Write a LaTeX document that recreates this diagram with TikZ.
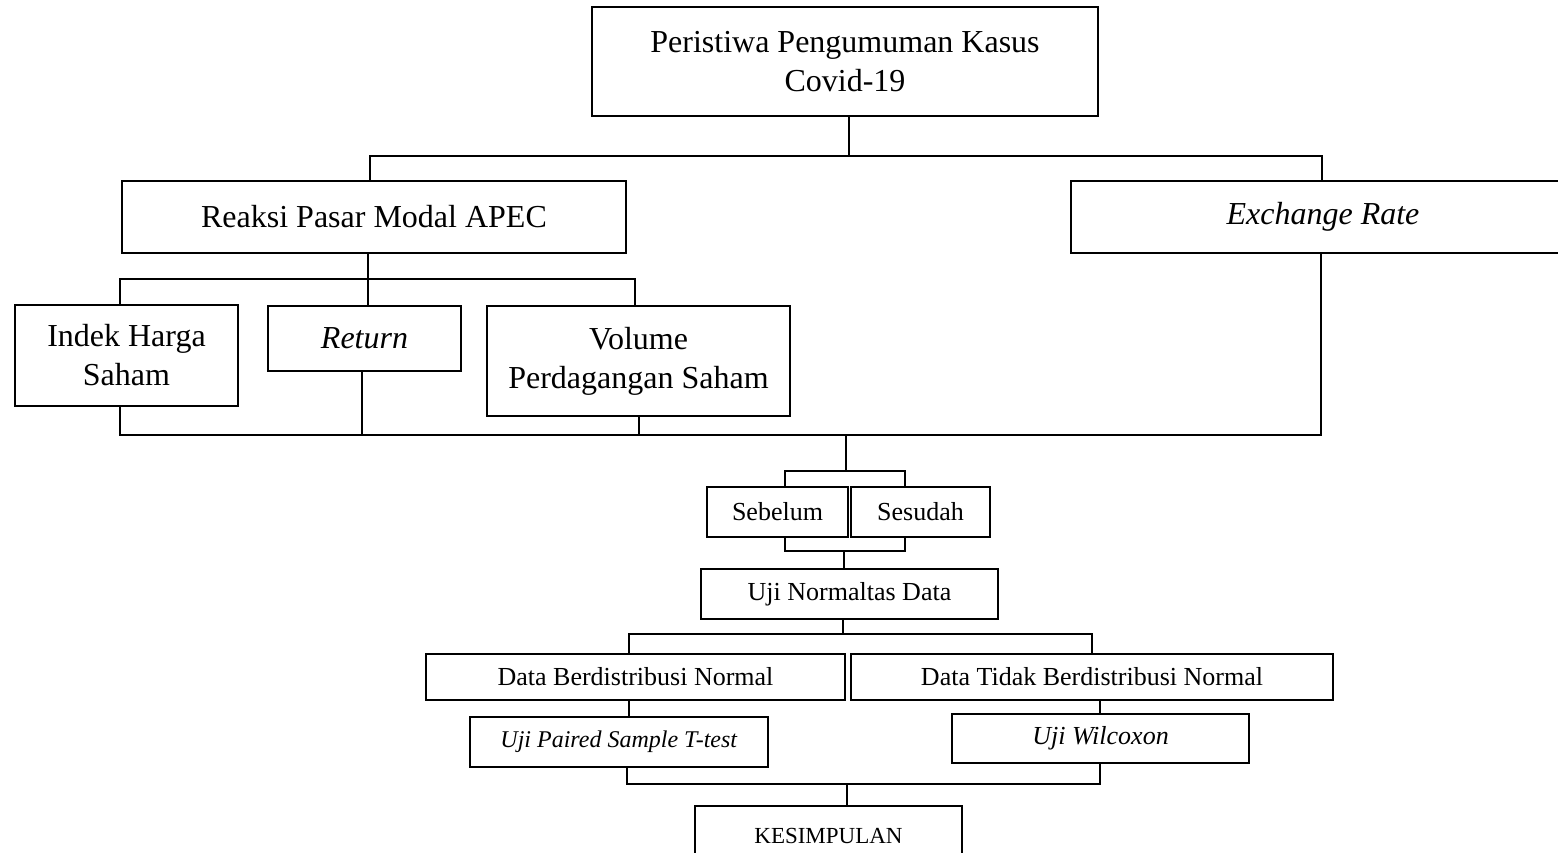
\documentclass[tikz,border=0pt]{standalone}
\usepackage{fontspec}
\setmainfont{Liberation Serif}

\begin{document}
\begin{tikzpicture}[x=.5pt,y=-.5pt,every node/.style={text=black},box/.style={draw,line width=1.1pt,inner sep=0pt,align=center},big/.style={font=\fontsize{16}{19.5}\selectfont},small/.style={font=\fontsize{13}{15}\selectfont},link/.style={line width=.75pt}]
\path[use as bounding box] (0,0) rectangle (1558,852);

% boxes
\node[box,big,minimum width=253pt,minimum height=54.5pt] (peristiwa) at (845,61.5) {Peristiwa Pengumuman Kasus\\Covid-19};
\node[box,big,minimum width=252pt,minimum height=36pt] (reaksi) at (374,217) {Reaksi Pasar Modal APEC};
\node[box,big,minimum width=252pt,minimum height=36pt] (exch) at (1323,217) {\textit{Exchange Rate}};
\node[box,big,minimum width=111.5pt,minimum height=50.5pt] (indek) at (126.5,355.5) {Indek Harga\\Saham};
\node[box,big,minimum width=96.5pt,minimum height=32.5pt] (return) at (364.5,338.5) {\textit{Return}};
\node[box,big,minimum width=151.5pt,minimum height=55pt] (volume) at (638.5,361) {Volume\\Perdagangan Saham};
\node[box,small,minimum width=70.5pt,minimum height=25pt] (sebelum) at (777.5,512) {Sebelum};
\node[box,small,minimum width=69.5pt,minimum height=25pt] (sesudah) at (920.5,512) {Sesudah};
\node[box,small,minimum width=148.5pt,minimum height=25pt] (normal) at (849.5,594) {Uji Normaltas Data};
\node[box,small,minimum width=209.5pt,minimum height=23pt] (berdist) at (635.5,677) {Data Berdistribusi Normal};
\node[box,small,minimum width=241pt,minimum height=23pt] (tidak) at (1092,677) {Data Tidak Berdistribusi Normal};
\node[box,font=\fontsize{12}{14}\selectfont,minimum width=149pt,minimum height=25pt] (paired) at (619,742) {\textit{Uji Paired Sample T-test}};
\node[box,small,minimum width=148.5pt,minimum height=24.5pt] (wilcox) at (1100.5,738.5) {\textit{Uji Wilcoxon}};
\node[box,font=\fontsize{11.5}{14}\selectfont,minimum width=133.5pt,minimum height=30pt] (kesimpulan) at (828.5,836) {KESIMPULAN};

% top branch
\coordinate (t1) at (849,156);
\coordinate (t1a) at (370,156);
\coordinate (t1b) at (1322,156);
\draw[link] (peristiwa.south -| t1) -- (t1);
\draw[link] (reaksi.north -| t1a) -- (t1a) -- (t1b) -- (exch.north -| t1b);

% APEC branch
\coordinate (t2) at (368,279);
\coordinate (t2a) at (120,279);
\coordinate (t2b) at (635,279);
\draw[link] (reaksi.south -| t2) -- (t2);
\draw[link] (indek.north -| t2a) -- (t2a) -- (t2b) -- (volume.north -| t2b);
\draw[link] (return.north -| t2) -- (t2);

% collector
\coordinate (t3) at (846,435);
\coordinate (t3a) at (120,435);
\coordinate (t3b) at (1321,435);
\coordinate (t3c) at (362,435);
\coordinate (t3d) at (639,435);
\draw[link] (indek.south -| t3a) -- (t3a) -- (t3b) -- (exch.south -| t3b);
\draw[link] (return.south -| t3c) -- (t3c);
\draw[link] (volume.south -| t3d) -- (t3d);

% sebelum / sesudah
\coordinate (t4) at (846,471);
\coordinate (t4a) at (785,471);
\coordinate (t4b) at (905,471);
\draw[link] (t3) -- (t4);
\draw[link] (sebelum.north -| t4a) -- (t4a) -- (t4b) -- (sesudah.north -| t4b);
\coordinate (t5) at (844,551);
\coordinate (t5a) at (785,551);
\coordinate (t5b) at (905,551);
\draw[link] (sebelum.south -| t5a) -- (t5a) -- (t5b) -- (sesudah.south -| t5b);
\draw[link] (t5) -- (normal.north -| t5);

% normality
\coordinate (t6) at (843,634);
\coordinate (t6a) at (629,634);
\coordinate (t6b) at (1092,634);
\draw[link] (normal.south -| t6) -- (t6);
\draw[link] (berdist.north -| t6a) -- (t6a) -- (t6b) -- (tidak.north -| t6b);
\draw[link] (berdist.south -| t6a) -- (paired.north -| t6a);

% conclusion
\coordinate (t7) at (847,784);
\coordinate (t7a) at (627,784);
\coordinate (t7b) at (1100,784);
\draw[link] (tidak.south -| t7b) -- (wilcox.north -| t7b);
\draw[link] (paired.south -| t7a) -- (t7a) -- (t7b) -- (wilcox.south -| t7b);
\draw[link] (t7) -- (kesimpulan.north -| t7);

\end{tikzpicture}
\end{document}
